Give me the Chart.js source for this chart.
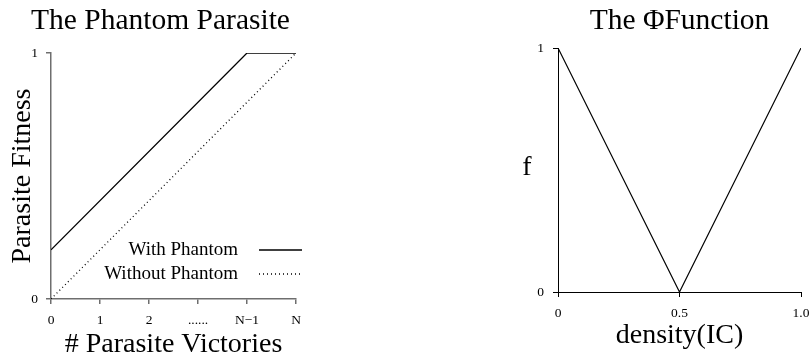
<!DOCTYPE html>
<html>
<head>
<meta charset="utf-8">
<script src="https://cdn.jsdelivr.net/npm/chart.js@4.4.1/dist/chart.umd.min.js"></script>
<style>
  html, body { margin: 0; padding: 0; background: #fff; overflow: hidden; width: 810px; height: 358px; }
  .box { position: absolute; top: 0; }
</style>
</head>
<body>
<div class="box" style="left:0px;"><canvas id="left" width="330" height="358"></canvas></div>
<div class="box" style="left:480px;"><canvas id="right" width="340" height="358"></canvas></div>
<script>
// ---------- data: left chart ----------
const victoryPositions = [0, 1, 2, 3, 4, 5];
const victoryTickLabels = ['0', '1', '2', '......', 'N\u22121', 'N'];
const withPhantomX = [0, 4, 5];
const withPhantomY = [0.2, 1, 1];
const withoutPhantomX = [0, 5];
const withoutPhantomY = [0, 1];
const fitnessTicks = [0, 1];
const fitnessTickLabels = ['0', '1'];
const seriesLabels = ['With Phantom', 'Without Phantom'];

// ---------- data: right chart ----------
const densityX = [0, 0.5, 1];
const phiY = [1, 0, 1];
const densityTicks = [0, 0.5, 1];
const densityTickLabels = ['0', '0.5', '1.0'];
const fTicks = [0, 1];
const fTickLabels = ['0', '1'];

const SERIF = "'Liberation Serif', 'Times New Roman', serif";
Chart.defaults.font.family = SERIF;
Chart.defaults.color = '#000';
Chart.defaults.animation = false;

const toPoints = (xs, ys) => xs.map((x, i) => ({ x: x, y: ys[i] }));

const innerLegend = {
  id: 'innerLegend',
  afterDatasetsDraw(chart, args, opts) {
    if (!opts || !opts.show) return;
    const { ctx, chartArea } = chart;
    ctx.save();
    ctx.font = opts.font;
    ctx.textAlign = 'right';
    ctx.textBaseline = 'middle';
    ctx.fillStyle = '#000';
    chart.data.datasets.forEach((ds, i) => {
      const y = chartArea.bottom - opts.firstRow + i * opts.rowGap;
      ctx.fillText(ds.label, chartArea.right + opts.textRight, y);
      ctx.beginPath();
      ctx.setLineDash(ds.borderDash || []);
      ctx.lineWidth = ds.borderWidth;
      ctx.strokeStyle = ds.borderColor;
      ctx.moveTo(chartArea.right + opts.lineStart, y);
      ctx.lineTo(chartArea.right + opts.lineEnd, y);
      ctx.stroke();
    });
    ctx.restore();
  }
};

const sideLabel = {
  id: 'sideLabel',
  afterDraw(chart, args, opts) {
    if (!opts || !opts.text) return;
    const { ctx, chartArea } = chart;
    ctx.save();
    ctx.font = opts.font;
    ctx.textAlign = 'center';
    ctx.textBaseline = 'middle';
    ctx.fillStyle = '#000';
    ctx.fillText(opts.text, chartArea.left + opts.dx, (chartArea.top + chartArea.bottom) / 2 + opts.dy);
    ctx.restore();
  }
};

const fixedTicks = (values) => (scale) => { scale.ticks = values.map(v => ({ value: v })); };

// ---------- left chart ----------
const GRAY = '#6e6e6e';
new Chart(document.getElementById('left'), {
  type: 'line',
  data: {
    datasets: [
      {
        label: seriesLabels[0],
        data: toPoints(withPhantomX, withPhantomY),
        borderColor: '#000', borderWidth: 1.3, pointRadius: 0, fill: false, tension: 0
      },
      {
        label: seriesLabels[1],
        data: toPoints(withoutPhantomX, withoutPhantomY),
        borderColor: '#000', borderWidth: 1.3, borderDash: [1, 3], pointRadius: 0, fill: false, tension: 0
      }
    ]
  },
  options: {
    responsive: false,
    animation: false,
    layout: { padding: { left: 25, right: 34, top: 0, bottom: 0 } },
    plugins: {
      legend: { display: false },
      tooltip: { enabled: false },
      title: {
        display: true, text: 'The Phantom Parasite', fullSize: true,
        font: { size: 29.5, weight: 'normal', family: SERIF }, color: '#000',
        padding: { top: 4, bottom: 13.6 }
      },
      innerLegend: { show: true, font: "19px " + SERIF, firstRow: 49, rowGap: 24, textRight: -58, lineStart: -37, lineEnd: 6 }
    },
    scales: {
      x: {
        type: 'linear', min: 0, max: 5,
        afterBuildTicks: fixedTicks(victoryPositions),
        afterFit(scale) { scale.height = 59; },
        ticks: { font: { size: 13.5 }, color: '#000', padding: 8, maxRotation: 0, autoSkip: false,
                 callback: (v) => victoryTickLabels[victoryPositions.indexOf(v)] },
        grid: { drawOnChartArea: false, drawTicks: true, tickLength: 5, color: GRAY, lineWidth: 1.5 },
        border: { display: true, color: GRAY, width: 1.5 },
        title: { display: true, text: '# Parasite Victories', font: { size: 28, family: SERIF }, color: '#000', padding: { top: 0, bottom: -3 } }
      },
      y: {
        type: 'linear', min: 0, max: 1,
        afterBuildTicks: fixedTicks(fitnessTicks),
        afterFit(scale) { scale.width = 26; },
        ticks: { font: { size: 13.5 }, color: '#000', padding: 8,
                 callback: (v) => fitnessTickLabels[fitnessTicks.indexOf(v)] },
        grid: { drawOnChartArea: false, drawTicks: true, tickLength: 5, color: GRAY, lineWidth: 1.5 },
        border: { display: true, color: GRAY, width: 1.5 },
        title: { display: true, text: 'Parasite Fitness', font: { size: 28, family: SERIF }, color: '#000', padding: { top: -19, bottom: 0 } }
      }
    }
  },
  plugins: [innerLegend]
});

// ---------- right chart ----------
new Chart(document.getElementById('right'), {
  type: 'line',
  data: {
    datasets: [
      {
        label: 'f',
        data: toPoints(densityX, phiY),
        borderColor: '#000', borderWidth: 1.2, pointRadius: 0, fill: false, tension: 0
      }
    ]
  },
  options: {
    responsive: false,
    animation: false,
    layout: { padding: { left: 0, right: 19, top: 0, bottom: 0 } },
    plugins: {
      legend: { display: false },
      tooltip: { enabled: false },
      title: {
        display: true, text: 'The \u03A6Function', fullSize: false,
        font: { size: 29.5, weight: 'normal', family: SERIF }, color: '#000',
        padding: { top: 4, bottom: 8.6 }
      },
      sideLabel: { text: 'f', font: "28px " + SERIF, dx: -31, dy: -2 }
    },
    scales: {
      x: {
        type: 'linear', min: 0, max: 1,
        afterBuildTicks: fixedTicks(densityTicks),
        afterFit(scale) { scale.height = 66; },
        ticks: { font: { size: 13.5 }, color: '#000', padding: 8, maxRotation: 0, autoSkip: false,
                 callback: (v) => densityTickLabels[densityTicks.indexOf(v)] },
        grid: { drawOnChartArea: false, drawTicks: true, tickLength: 5, color: '#000', lineWidth: 1 },
        border: { display: true, color: '#000', width: 1 },
        title: { display: true, text: 'density(IC)', font: { size: 28, family: SERIF }, color: '#000', padding: { top: 0, bottom: 6 } }
      },
      y: {
        type: 'linear', min: 0, max: 1,
        afterBuildTicks: fixedTicks(fTicks),
        afterFit(scale) { scale.width = 78; },
        ticks: { font: { size: 13.5 }, color: '#000', padding: 9,
                 callback: (v) => fTickLabels[fTicks.indexOf(v)] },
        grid: { drawOnChartArea: false, drawTicks: true, tickLength: 5, color: '#000', lineWidth: 1 },
        border: { display: true, color: '#000', width: 1 }
      }
    }
  },
  plugins: [sideLabel]
});
</script>
</body>
</html>
